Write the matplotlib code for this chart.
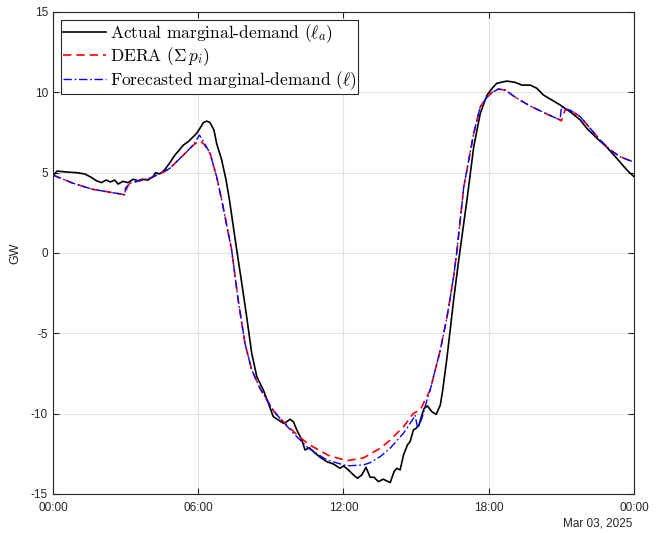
import matplotlib.pyplot as plt
import numpy as np

# hours since midnight, Mar 03 2025
actual_h = [0.0, 0.07, 0.17, 0.55, 0.96, 1.31, 1.58, 1.79, 2.0, 2.2, 2.37, 2.55, 2.69,
            2.89, 3.1, 3.31, 3.51, 3.69, 3.93, 4.13, 4.24, 4.38, 4.52, 4.63, 4.83, 5.04,
            5.22, 5.39, 5.59, 5.73, 5.94, 6.07, 6.21, 6.35, 6.49, 6.65, 6.76, 6.97, 7.15,
            7.29, 7.59, 7.8, 8.0, 8.21, 8.42, 8.69, 8.9, 9.1, 9.31, 9.52, 9.66, 9.79,
            9.93, 10.07, 10.28, 10.41, 10.59, 10.83, 11.03, 11.31, 11.58, 11.86, 12.0,
            12.2, 12.41, 12.58, 12.76, 12.93, 13.1, 13.26, 13.44, 13.64, 13.93, 14.09,
            14.2, 14.34, 14.48, 14.64, 14.75, 14.89, 15.0, 15.12, 15.24, 15.33, 15.47,
            15.65, 15.83, 16.0, 16.1, 16.28, 16.55, 16.76, 17.1, 17.38, 17.65, 17.93,
            18.14, 18.33, 18.75, 19.09, 19.37, 19.71, 19.99, 20.26, 20.61, 20.95, 21.36,
            21.78, 22.05, 22.47, 22.88, 23.29, 23.71, 24.0]
actual_gw = [4.85, 4.92, 5.1, 5.04, 5.0, 4.92, 4.71, 4.5, 4.38, 4.54, 4.42, 4.54, 4.29,
             4.46, 4.38, 4.59, 4.5, 4.59, 4.54, 4.75, 5.0, 4.92, 5.04, 5.21, 5.62, 6.1,
             6.41, 6.72, 6.93, 7.14, 7.45, 7.76, 8.11, 8.21, 8.11, 7.65, 6.82, 5.79, 4.54,
             3.3, 0.19, -1.89, -3.96, -6.24, -7.7, -8.53, -9.35, -10.19, -10.39, -10.6,
             -10.5, -10.35, -10.5, -11.01, -11.64, -12.26, -12.12, -12.46, -12.71, -12.99,
             -13.13, -13.4, -13.25, -13.5, -13.81, -14.02, -13.81, -13.34, -13.96, -13.96,
             -14.23, -14.08, -14.29, -13.61, -13.4, -13.5, -12.57, -11.95, -11.74, -11.01,
             -10.91, -10.7, -10.08, -9.67, -9.52, -9.88, -10.04, -9.46, -8.53, -6.45,
             -2.92, -0.44, 3.3, 6.61, 8.69, 9.83, 10.25, 10.56, 10.7, 10.62, 10.45, 10.45,
             10.25, 9.83, 9.52, 9.21, 8.79, 8.28, 7.76, 7.14, 6.58, 5.89, 5.16, 4.75]

dera_h = [0.0, 0.83, 1.65, 2.48, 2.89, 2.98, 3.05, 3.17, 3.58, 4.0, 4.52, 4.83, 5.39,
          5.8, 6.07, 6.25, 6.49, 6.76, 6.97, 7.38, 7.65, 7.93, 8.21, 8.55, 8.9, 9.1,
          9.38, 10.0, 10.55, 11.38, 12.14, 12.83, 13.52, 13.93, 14.48, 14.89, 15.17,
          15.37, 15.58, 16.0, 16.28, 16.55, 16.69, 16.97, 17.38, 17.65, 17.93, 18.14,
          18.4, 18.68, 19.16, 19.71, 20.4, 20.95, 21.0, 21.16, 21.36, 21.78, 22.19,
          22.6, 23.02, 23.43, 24.0]
dera_gw = [4.85, 4.34, 3.96, 3.75, 3.65, 3.61, 4.04, 4.34, 4.5, 4.65, 5.0, 5.27, 6.1,
           6.72, 6.99, 6.75, 6.2, 4.75, 3.3, 0.19, -2.92, -5.62, -7.28, -8.42, -9.31,
           -9.8, -10.3, -11.2, -11.9, -12.6, -12.93, -12.75, -12.15, -11.64, -10.81,
           -9.98, -9.77, -9.15, -8.53, -6.04, -3.96, -1.47, 0.19, 4.13, 7.45, 9.1, 9.7,
           10.0, 10.2, 10.14, 9.63, 9.15, 8.65, 8.28, 8.22, 8.94, 8.9, 8.48, 7.76, 7.03,
           6.41, 5.99, 5.65]

fcst_h = [0.0, 0.83, 1.65, 2.48, 2.89, 2.98, 2.99, 3.17, 3.58, 4.0, 4.52, 4.83, 5.39,
          5.8, 6.05, 6.25, 6.49, 6.76, 6.97, 7.38, 7.65, 7.93, 8.21, 8.55, 8.9, 9.1,
          9.38, 9.93, 10.55, 11.31, 12.14, 12.83, 13.1, 13.52, 13.93, 14.48, 14.89,
          14.95, 15.07, 15.24, 15.37, 15.58, 16.0, 16.28, 16.55, 16.69, 16.97, 17.38,
          17.65, 17.93, 18.14, 18.4, 18.68, 19.16, 19.71, 20.4, 20.95, 21.0, 21.16,
          21.36, 21.78, 22.19, 22.6, 23.02, 23.43, 24.0]
fcst_gw = [4.85, 4.34, 3.96, 3.75, 3.65, 3.61, 4.03, 4.34, 4.5, 4.65, 5.0, 5.27, 6.1,
           6.72, 7.34, 6.85, 6.2, 4.75, 3.3, 0.19, -2.92, -5.62, -7.28, -8.42, -9.31,
           -9.8, -10.3, -11.22, -12.15, -12.88, -13.25, -13.19, -13.05, -12.67, -12.15,
           -11.22, -10.29, -10.08, -10.91, -10.29, -9.56, -8.53, -6.04, -3.96, -1.47,
           0.19, 4.13, 7.45, 9.1, 9.7, 10.0, 10.2, 10.14, 9.63, 9.15, 8.65, 8.28, 9.1,
           8.94, 8.9, 8.48, 7.76, 7.03, 6.41, 5.99, 5.65]

xtick_h = [0, 6, 12, 18, 24]
xtick_labels = ["00:00", "06:00", "12:00", "18:00", "00:00"]
ytick_gw = [-15, -10, -5, 0, 5, 10, 15]

plt.rcParams['font.family'] = ['Liberation Sans', 'DejaVu Sans']
plt.rcParams['mathtext.fontset'] = 'cm'
plt.rcParams['axes.unicode_minus'] = False

fig = plt.figure(figsize=(6.62, 5.33), dpi=100)
ax = fig.add_axes([0.080, 0.0732, 0.8777, 0.9043])

ax.plot(actual_h, actual_gw, color='black', lw=1.2,
        label=r'Actual marginal-demand ($\ell_a$)')
ax.plot(dera_h, dera_gw, color='#ff0000', lw=1.2, ls=(0, (5, 3)),
        label=r'DERA ($\Sigma\, p_i$)')
ax.plot(fcst_h, fcst_gw, color='#0000ff', lw=1.0, ls=(0, (6, 2, 1.2, 2)),
        label=r'Forecasted marginal-demand ($\ell$)')

ax.set_xlim(0, 24)
ax.set_ylim(-15, 15)
ax.set_xticks(xtick_h)
ax.set_xticklabels(xtick_labels)
ax.set_yticks(ytick_gw)
ax.grid(True, color='#e2e2e2', lw=0.8)
ax.set_axisbelow(True)
ax.tick_params(direction='in', top=True, right=True, labelsize=8.5,
               colors='#262626', length=4, width=0.8)
ax.tick_params(axis='x', pad=6)
for s in ax.spines.values():
    s.set_color('#262626')
    s.set_linewidth(0.8)
ax.set_ylabel('GW', fontsize=9, color='#262626', labelpad=7)
fig.text(0.903, 0.017, 'Mar 03, 2025', ha='center', va='center',
         fontsize=8.5, color='#262626')

leg = ax.legend(loc='upper left', handlelength=2.5, handletextpad=0.2,
                borderaxespad=0.45, borderpad=0.12, labelspacing=0.05, fancybox=False,
                framealpha=1, edgecolor='#262626',
                prop={'family': 'cmr10', 'size': 12.5})
leg.get_frame().set_linewidth(0.8)

fig.savefig('out.png', dpi=100)
